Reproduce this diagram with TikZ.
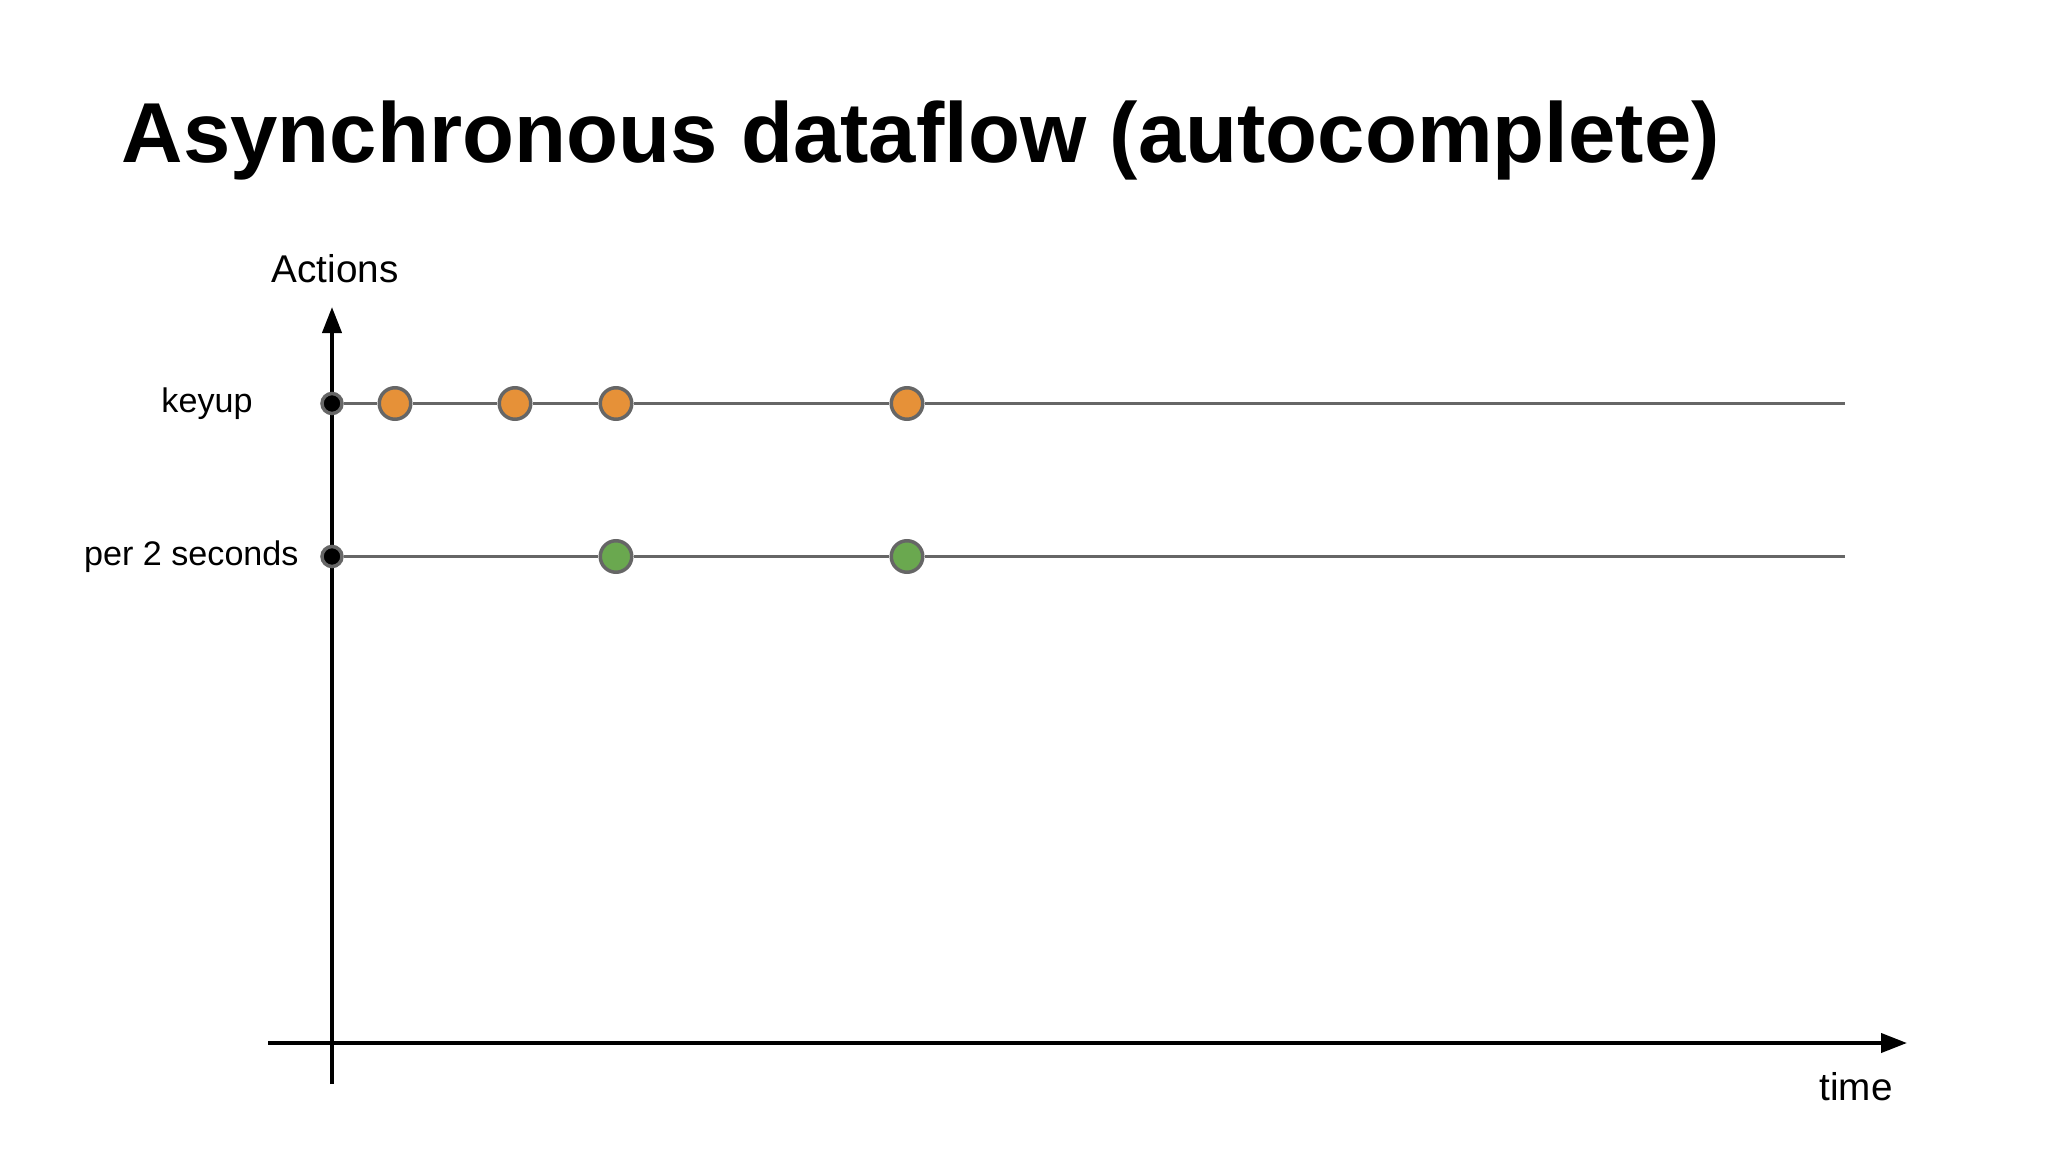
\documentclass[tikz,border=0pt]{standalone}
\usepackage{fontspec}
\setmainfont{Liberation Sans}
\usetikzlibrary{arrows.meta, positioning}

\definecolor{keyorange}{HTML}{E69138}
\definecolor{tickgreen}{HTML}{6AA84F}
\definecolor{lanegray}{HTML}{666666}

\begin{document}
\begin{tikzpicture}[
    x=0.01cm, y=-0.01cm,
    axis/.style={
        line width=0.04cm,
        -{Triangle[length=0.26cm, width=0.19cm]}
    },
    lane/.style={draw=lanegray, line width=0.032cm},
    origin/.style={
        circle,
        draw=lanegray,
        fill=black,
        line width=0.035cm,
        minimum size=0.2cm,
        inner sep=0
    },
    event/.style={
        circle,
        draw=lanegray,
        line width=0.035cm,
        minimum size=0.315cm,
        inner sep=0
    },
    rowlabel/.style={inner sep=0, font=\fontsize{9.7}{12}\selectfont},
    axislabel/.style={inner sep=0, font=\fontsize{11}{13}\selectfont}
]
\useasboundingbox (0,0) rectangle (2048,1152);

% Title
\node[anchor=base west, inner sep=0, font=\fontsize{24.2}{29}\selectfont\bfseries] (title) at (121,163) {Asynchronous dataflow (autocomplete)};

% Axes
\coordinate (ybot) at (332,1084);
\coordinate (ytop) at (332,307);
\coordinate (xleft) at (268,1043);
\coordinate (xright) at (1907,1043);
\draw[axis] (ybot) -- (ytop);
\draw[axis] (xleft) -- (xright);
\node[axislabel, anchor=base] (actions) at (335,283) {Actions};
\node[axislabel, anchor=base] (time) at (1856,1100) {time};

% keyup stream
\node[origin] (k0) at (332,403.5) {};
\node[event, fill=keyorange] (k1) at (395,403.5) {};
\node[event, fill=keyorange] (k2) at (515,403.5) {};
\node[event, fill=keyorange] (k3) at (616,403.5) {};
\node[event, fill=keyorange] (k4) at (907,403.5) {};
\coordinate (kend) at (1845,403.5);
\draw[lane] (k0) -- (k1) -- (k2) -- (k3) -- (k4) -- (kend);
\node[rowlabel, left=0.67cm of k0] (keyup) {keyup};

% throttled stream
\node[origin] (p0) at (332,556.5) {};
\node[event, fill=tickgreen] (p1) at (616,556.5) {};
\node[event, fill=tickgreen] (p2) at (907,556.5) {};
\coordinate (pend) at (1845,556.5);
\draw[lane] (p0) -- (p1) -- (p2) -- (pend);
\node[rowlabel, left=0.21cm of p0] (persec) {per 2 seconds};

\end{tikzpicture}
\end{document}
